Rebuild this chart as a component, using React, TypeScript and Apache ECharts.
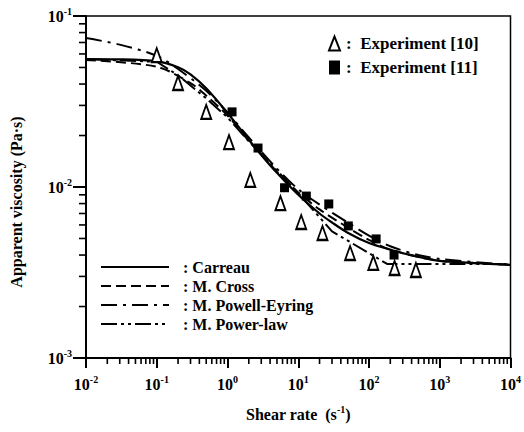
import React, { useEffect, useRef } from "react";
import * as echarts from "echarts";

const FONT = "Liberation Serif";

// Experiment [10] (open triangles): [shear rate, viscosity]
const exp10: [number, number][] = [
  [0.1, 0.059], [0.2, 0.0406], [0.5, 0.0275], [1.05, 0.0183], [2.1, 0.011],
  [5.6, 0.00805], [11, 0.00624], [22, 0.00538], [54, 0.00411], [115, 0.0036],
  [230, 0.00336], [460, 0.00327],
];
// Experiment [11] (filled squares)
const exp11: [number, number][] = [
  [1.16, 0.0275], [2.7, 0.0169], [6.4, 0.0099], [13, 0.00885], [27, 0.00796],
  [51, 0.00592], [126, 0.00497], [226, 0.004],
];
// Model curves
const carreau: [number, number][] = [
  [0.01, 0.056], [0.03, 0.0558], [0.1, 0.0543], [0.2, 0.0502], [0.3, 0.0456],
  [0.5, 0.0378], [1, 0.0271], [2, 0.0189], [3, 0.0154], [5, 0.0121],
  [10, 0.009], [20, 0.007], [30, 0.0062], [50, 0.0054], [100, 0.0047],
  [200, 0.0043], [300, 0.0041], [1000, 0.0037], [3000, 0.0036], [10000, 0.0035],
];
const mCross: [number, number][] = [
  [0.01, 0.0553], [0.1, 0.0505], [0.3, 0.0405], [0.5, 0.0342], [1, 0.0262],
  [2, 0.0186], [5, 0.0123], [10, 0.0093], [20, 0.0074], [50, 0.0058],
  [100, 0.0049], [200, 0.0043], [1000, 0.0037], [10000, 0.00352],
];
const mPowellEyring: [number, number][] = [
  [0.01, 0.0743], [0.03, 0.068], [0.1, 0.0585], [0.2, 0.049], [0.5, 0.0365],
  [1, 0.0272], [2, 0.0195], [5, 0.0128], [10, 0.0097], [20, 0.0079],
  [50, 0.0062], [100, 0.0052], [200, 0.0045], [500, 0.004], [1000, 0.0038],
  [10000, 0.0035],
];
const mPowerLaw: [number, number][] = [
  [0.01, 0.056], [0.1, 0.054], [0.2, 0.045], [0.5, 0.033], [1, 0.0255],
  [2, 0.0185], [4, 0.0138], [10, 0.0092], [30, 0.0055], [100, 0.0041],
  [180, 0.00355], [10000, 0.00355],
];

const xMin = 0.01, xMax = 10000, yMin = 0.001, yMax = 0.1;
const xDecades = [-2, -1, 0, 1, 2, 3];
const yDecades = [-3, -2];
const minorSteps = [2, 3, 4, 5, 6, 7, 8, 9];

export default function App() {
  const ref = useRef<HTMLDivElement>(null);
  useEffect(() => {
    if (!ref.current) return;
    const chart = echarts.init(ref.current, null, { renderer: "svg" });
    const minorX: number[][] = [];
    xDecades.forEach((d) => minorSteps.forEach((k) => minorX.push([k * Math.pow(10, d), yMin])));
    const minorY: number[][] = [];
    yDecades.forEach((d) => minorSteps.forEach((k) => minorY.push([xMin, k * Math.pow(10, d)])));

    const supFmt = (v: number) => {
      const e = Math.round(Math.log10(v));
      return `{b|10}{s|${e}}`;
    };
    const rich = {
      b: { fontFamily: FONT, fontSize: 16, fontWeight: "bold", color: "#000" },
      s: { fontFamily: FONT, fontSize: 10, fontWeight: "bold", color: "#000", padding: [0, 0, 10, 0] },
    };
    const lineBase = { type: "line", showSymbol: false, symbol: "none", smooth: 0.3, z: 3 } as any;

    chart.setOption({
      animation: false,
      backgroundColor: "#fff",
      grid: { left: 85, right: 12, top: 16, bottom: 74, show: true, borderColor: "#000", borderWidth: 1.5 },
      xAxis: {
        type: "log", logBase: 10, min: xMin, max: xMax,
        name: "{a|Shear rate  (s}{s|-1}{a|)}",
        nameLocation: "middle", nameGap: 46,
        nameTextStyle: {
          rich: {
            a: { fontFamily: FONT, fontSize: 16, fontWeight: "bold", color: "#000" },
            s: { fontFamily: FONT, fontSize: 10, fontWeight: "bold", color: "#000", padding: [0, 0, 10, 0] },
          },
        },
        axisLine: { show: true, lineStyle: { color: "#000", width: 2 } },
        axisTick: { show: true, inside: false, length: 10, lineStyle: { color: "#000", width: 2 } },
        splitLine: { show: false },
        axisLabel: { formatter: supFmt, rich, margin: 16 },
      },
      yAxis: {
        type: "log", logBase: 10, min: yMin, max: yMax,
        name: "Apparent viscosity (Pa·s)",
        nameLocation: "middle", nameGap: 62,
        nameTextStyle: { fontFamily: FONT, fontSize: 16, fontWeight: "bold", color: "#000", padding: [0, 30, 0, 0] },
        axisLine: { show: true, lineStyle: { color: "#000", width: 2 } },
        axisTick: { show: true, inside: false, length: 13, lineStyle: { color: "#000", width: 2 } },
        splitLine: { show: false },
        axisLabel: { formatter: supFmt, rich, margin: 14 },
      },
      legend: [
        {
          data: ["Experiment [10]", "Experiment [11]"],
          orient: "vertical", left: 328, top: 35, padding: 0, itemWidth: 11, itemHeight: 14, itemGap: 7,
          formatter: ":  {name}",
          textStyle: { fontFamily: FONT, fontSize: 17, fontWeight: "bold", color: "#000", padding: [0, 0, 0, 1] },
        },
        {
          data: ["Carreau", "M. Cross", "M. Powell-Eyring", "M. Power-law"],
          orient: "vertical", left: 100, top: 259, padding: 0, itemWidth: 68, itemHeight: 16, itemGap: 3,
          formatter: ": {name}",
          itemStyle: { opacity: 0 },
          textStyle: { fontFamily: FONT, fontSize: 16, fontWeight: "bold", color: "#000", padding: [0, 0, 0, 9] },
        },
      ],
      series: [
        { ...lineBase, name: "Carreau", data: carreau, lineStyle: { color: "#000", width: 2.2, type: "solid" }, itemStyle: { color: "#000" } },
        { ...lineBase, name: "M. Cross", data: mCross, lineStyle: { color: "#000", width: 2, type: [10, 5] }, itemStyle: { color: "#000" } },
        { ...lineBase, name: "M. Powell-Eyring", data: mPowellEyring, lineStyle: { color: "#000", width: 2, type: [16, 6, 3, 6] }, itemStyle: { color: "#000" } },
        { ...lineBase, name: "M. Power-law", smooth: false, data: mPowerLaw, lineStyle: { color: "#000", width: 2, type: [16, 4, 3, 4, 3, 4] }, itemStyle: { color: "#000" } },
        {
          type: "scatter", name: "Experiment [10]", data: exp10, symbol: "triangle", symbolSize: [10, 14], z: 5,
          itemStyle: { color: "#fff", borderColor: "#000", borderWidth: 2, opacity: 1 },
        },
        {
          type: "scatter", name: "Experiment [11]", data: exp11, symbol: "rect", symbolSize: 9, z: 5,
          itemStyle: { color: "#000", opacity: 1 },
        },
        {
          type: "custom", name: "minorX", data: minorX, clip: false, silent: true, z: 6,
          renderItem: (_p: any, api: any) => {
            const pt = api.coord([api.value(0), api.value(1)]);
            return { type: "line", shape: { x1: pt[0], y1: pt[1], x2: pt[0], y2: pt[1] + 6 }, style: { stroke: "#000", lineWidth: 1.6 } };
          },
        },
        {
          type: "custom", name: "minorY", data: minorY, clip: false, silent: true, z: 6,
          renderItem: (_p: any, api: any) => {
            const pt = api.coord([api.value(0), api.value(1)]);
            return { type: "line", shape: { x1: pt[0] - 7, y1: pt[1], x2: pt[0], y2: pt[1] }, style: { stroke: "#000", lineWidth: 1.6 } };
          },
        },
      ],
    });
    return () => chart.dispose();
  }, []);
  return <div ref={ref} style={{ position: "absolute", left: 0, top: 0, width: 524, height: 432 }} />;
}
